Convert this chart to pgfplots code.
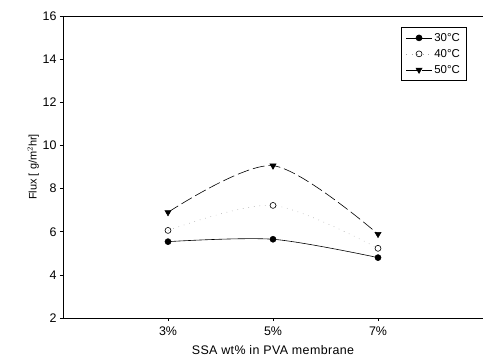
\documentclass[border=0pt]{standalone}
\usepackage{pgfplots}
\pgfplotsset{compat=1.18}
\usepackage{fontspec}
\setmainfont{Liberation Sans}
\begin{document}
\begin{tikzpicture}
\begin{axis}[
  scale only axis,
  width=420bp, height=302bp,
  xmin=1, xmax=9, ymin=2, ymax=16,
  axis lines*=left,
  xtick={3,5,7},
  xticklabels={3\%,5\%,7\%},
  ytick={2,4,6,8,10,12,14,16},
  tick align=outside,
  major tick length=3bp,
  tick style={black, line width=0.6pt},
  axis line style={line width=0.7pt},
  /pgf/number format/assume math mode=true,
  tick label style={font=\fontsize{12.5}{14}\selectfont},
  xticklabel style={yshift=-2bp},
  xlabel={\addfontfeatures{LetterSpace=3}SSA wt\% in PVA membrane},
  ylabel={Flux [ g/m$^{2}$hr]},
  xlabel style={font=\fontsize{12.5}{14}\selectfont, yshift=-3bp},
  ylabel style={font=\fontsize{11}{13}\selectfont, yshift=-3bp},
  legend style={at={(0.96,0.964)}, anchor=north east, draw=black, line width=0.6pt,
    font=\fontsize{11.5}{13}\selectfont, row sep=2.5bp, inner sep=4pt},
  legend cell align=left,
  legend image code/.code={\draw[mark repeat=2, mark phase=2, #1] plot coordinates {(0bp,0bp) (13bp,0bp) (26bp,0bp)};},
  clip=false,
]
\addplot[black, line width=0.6pt, smooth, mark=*, mark size=3pt, mark options={solid, fill=black}]
  coordinates {(3,5.54) (5,5.65) (7,4.80)};
\addlegendentry{30\textdegree C}
\addplot[gray!70, line width=0.6pt, smooth, dash pattern=on 0.6pt off 5pt, mark=o, mark size=3pt, mark options={solid, black, fill=white}]
  coordinates {(3,6.06) (5,7.22) (7,5.23)};
\addlegendentry{40\textdegree C}
\addplot[black, line width=0.6pt, smooth, dash pattern=on 12pt off 4pt, mark=triangle*, mark size=3.5pt, mark options={solid, fill=black, rotate=180}]
  coordinates {(3,6.90) (5,9.06) (7,5.89)};
\addlegendentry{50\textdegree C}
\draw[line width=0.7pt] (rel axis cs:0,1) -- (rel axis cs:1,1);
\path (rel axis cs:0,0) ++(-63bp,-43bp) coordinate (bl);
\path (rel axis cs:1,1) ++(1bp,16bp) coordinate (tr);
\end{axis}
\useasboundingbox (bl) rectangle (tr);
\end{tikzpicture}
\end{document}
